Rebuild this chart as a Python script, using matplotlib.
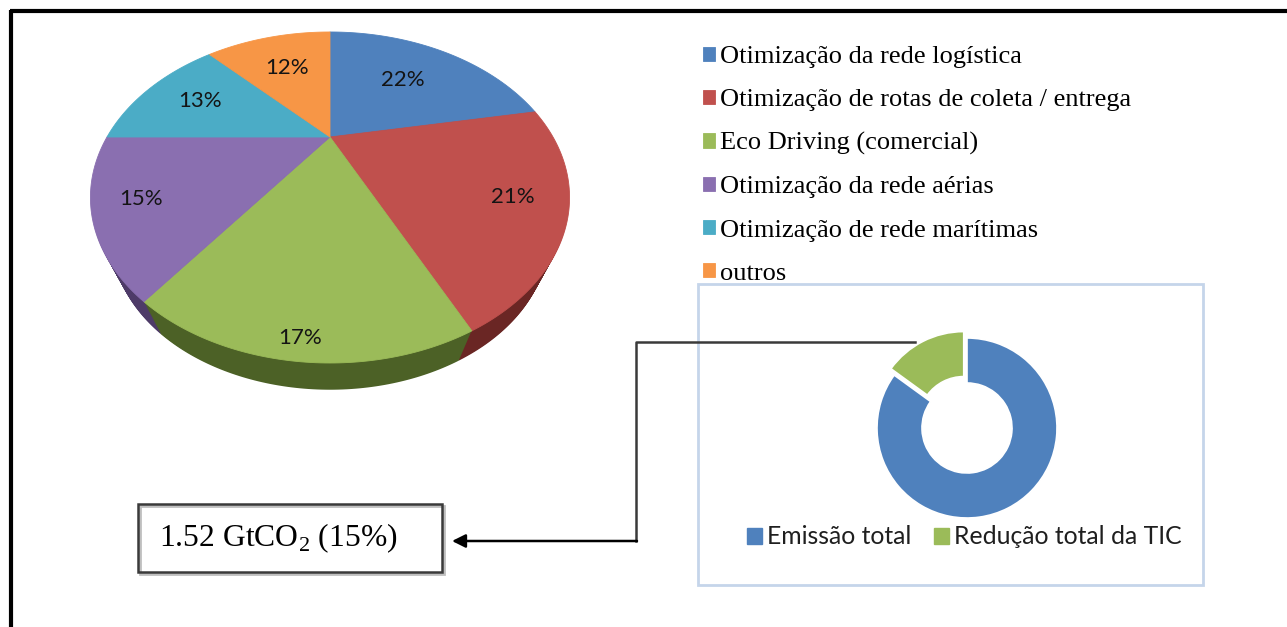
import numpy as np
import matplotlib
matplotlib.use('Agg')
import matplotlib.pyplot as plt
from matplotlib import transforms as mtransforms
from matplotlib.path import Path
from matplotlib.patches import Rectangle

# ---------------- data ----------------
categories = ['Otimização da rede logística',
              'Otimização de rotas de coleta / entrega',
              'Eco Driving (comercial)',
              'Otimização da rede aérias',
              'Otimização de rede marítimas',
              'outros']
shares = [22, 21, 17, 15, 13, 12]
pct_labels = ['22%', '21%', '17%', '15%', '13%', '12%']

donut_labels = ['Emissão total', 'Redução total da TIC']
donut_values = [85, 15]

callout_text = r'1.52 GtCO$_{\mathregular{2}}$ (15%)'

# ---------------- styles ----------------
pie_colors = ['#4F81BD', '#C0504D', '#9BBB59', '#8A6FB0', '#4BACC6', '#F79646']
side_colors = ['#2E4B70', '#6A2624', '#4C6126', '#4E3B68', '#2A6677', '#94572A']
label_radius = [0.6, 0.8, 0.93, 0.82, 0.7, 0.63]
donut_colors = ['#4F81BD', '#9BBB59']

W, H = 1287, 627


class Perspective(mtransforms.Transform):
    """Perspective view of the unit-circle pie plane (pixel data units).
    shrink > 0 moves the circle towards a vanishing point (lower face of the pie)."""
    input_dims = 2
    output_dims = 2
    is_separable = False

    def __init__(self, cx, cy, sx, sy, k, vx, vy, shrink=0.0):
        super().__init__()
        self.cx, self.cy, self.sx, self.sy, self.k = cx, cy, sx, sy, k
        self.vx, self.vy, self.shrink = vx, vy, shrink

    def transform_non_affine(self, values):
        values = np.asarray(values, dtype=float).reshape(-1, 2)
        u, v = values[:, 0], values[:, 1]
        d = 1.0 + self.k * v
        X = self.cx + self.sx * u / d
        Y = self.cy - self.sy * v / d
        s = 1.0 - self.shrink
        return np.column_stack([self.vx + s * (X - self.vx), self.vy + s * (Y - self.vy)])

    def transform_path_non_affine(self, path):
        pts = []
        for seg, code in path.iter_bezier(simplify=False):
            if code == Path.MOVETO:
                pts.append(seg.control_points[:1])
            else:
                pts.append(seg(np.linspace(0, 1, 41)[1:]))
        verts = np.concatenate(pts)
        return Path(self.transform_non_affine(verts), closed=True)


persp_kw = dict(cx=330, cy=137, sx=223, sy=143.4, k=0.3655, vx=330, vy=660)
max_shrink = 0.09

fig = plt.figure(figsize=(W / 100, H / 100), dpi=100)

# background / annotation layer in pixel coordinates
bg = fig.add_axes([0, 0, 1, 1])
bg.set_xlim(0, W)
bg.set_ylim(H, 0)
bg.axis('off')

# outer frame (top and left visible)
bg.plot([10, W], [11, 11], color='black', lw=3, solid_capstyle='butt')
bg.plot([11, 11], [10, H], color='black', lw=3, solid_capstyle='butt')

# donut box
bg.add_patch(Rectangle((698, 284), 505, 301, fill=False, ec='#C5D5EA', lw=2))

# callout box
bg.add_patch(Rectangle((140, 506), 304, 68, fill=False, ec='#BFBFBF', lw=2))
bg.add_patch(Rectangle((138, 504), 304, 68, fill=False, ec='#3A3A3A', lw=1.8))
bg.text(159, 538, callout_text, ha='left', va='center',
        family='Liberation Serif', size=22.8, color='black')

# connector
bg.plot([915, 636, 636], [342, 342, 541], color='#3A3A3A', lw=1.8)
bg.annotate('', xy=(452, 541), xytext=(637, 541),
            arrowprops=dict(arrowstyle='-|>', color='black', lw=1.8,
                            mutation_scale=20, shrinkA=0, shrinkB=0))

# ---------------- 3-D pie ----------------
axp = fig.add_axes([0, 0, 1, 1])
axp.patch.set_visible(False)
n_layers = 30
for i in range(n_layers, 0, -1):
    sw, _ = axp.pie(shares, colors=side_colors, startangle=90, counterclock=False,
                    wedgeprops=dict(linewidth=0))
    for w in sw:
        w.set_transform(Perspective(shrink=max_shrink * i / n_layers, **persp_kw) + axp.transData)
        w.set_zorder(1)

top_t = Perspective(**persp_kw)
wedges, texts = axp.pie(shares, colors=pie_colors, startangle=90, counterclock=False,
                        labels=pct_labels, labeldistance=0.7,
                        wedgeprops=dict(linewidth=0.6))
for w, c in zip(wedges, pie_colors):
    w.set_transform(top_t + axp.transData)
    w.set_edgecolor(c)
    w.set_zorder(2)
for w, t, r in zip(wedges, texts, label_radius):
    ang = np.deg2rad((w.theta1 + w.theta2) / 2)
    t.set_position((r * np.cos(ang), r * np.sin(ang)))
    t.set_transform(top_t + axp.transData)
    t.set_ha('center')
    t.set_va('center')
    t.set_family('Lato')
    t.set_size(16)
    t.set_color('#141414')
    t.set_zorder(3)

axp.set_aspect('auto')
axp.set_xlim(0, W)
axp.set_ylim(H, 0)
axp.axis('off')

axp.legend(wedges, categories, loc='upper left', bbox_to_anchor=(703, 46),
           bbox_transform=axp.transData, frameon=False,
           prop=dict(family='Liberation Serif', size=19),
           handlelength=0.45, handleheight=0.45, handletextpad=0.2,
           labelspacing=0.80, borderpad=0, borderaxespad=0)

# ---------------- donut ----------------
R = 90
cxd, cyd = 967, 428
axd = fig.add_axes([(cxd - 1.25 * R) / W, (H - cyd - 1.25 * R) / H, 2.5 * R / W, 2.5 * R / H])
axd.pie(donut_values, colors=donut_colors, startangle=90, counterclock=False,
        explode=[0, 0.08], wedgeprops=dict(width=0.5, edgecolor='white', linewidth=1.2))
axd.set_xlim(-1.25, 1.25)
axd.set_ylim(-1.25, 1.25)
axd.axis('off')

proxies = [Rectangle((0, 0), 1, 1, color=c) for c in donut_colors]
bg.legend(proxies, donut_labels, loc='center left', bbox_to_anchor=(747, 537),
          bbox_transform=bg.transData, ncol=2, frameon=False,
          prop=dict(family='Lato', size=17.8), labelcolor='#1F1F1F',
          handlelength=0.6, handleheight=0.6, handletextpad=0.22,
          columnspacing=0.9, borderpad=0, borderaxespad=0)

fig.savefig('out.png', dpi=100)
